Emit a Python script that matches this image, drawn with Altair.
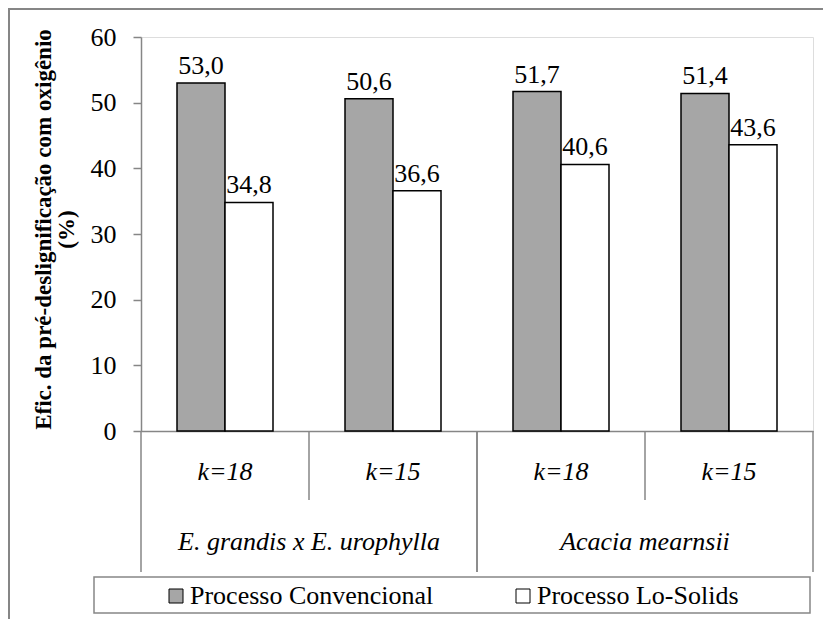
import altair as alt
import pandas as pd

# ---------------- data ----------------
groups = ["E. grandis x E. urophylla", "E. grandis x E. urophylla",
          "Acacia mearnsii", "Acacia mearnsii"]
kappas = ["k=18", "k=15", "k=18", "k=15"]
series = ["Processo Convencional", "Processo Lo-Solids"]
convencional = [53.0, 50.6, 51.7, 51.4]
lo_solids = [34.8, 36.6, 40.6, 43.6]
y_ticks = [0, 10, 20, 30, 40, 50, 60]
colors = ["#a6a6a6", "#ffffff"]
y_title = ["Efic. da pré-deslignificação com oxigênio", "(%)"]

cats = [f"{g}|{k}" for g, k in zip(groups, kappas)]
rows = []
for c, g, k, a, b in zip(cats, groups, kappas, convencional, lo_solids):
    rows.append(dict(cat=c, grupo=g, kappa=k, serie=series[0], valor=a))
    rows.append(dict(cat=c, grupo=g, kappa=k, serie=series[1], valor=b))
df = pd.DataFrame(rows)
cat_df = pd.DataFrame({"cat": cats, "grupo": groups, "kappa": kappas})

FONT = "Times New Roman, Liberation Serif, DejaVu Serif, serif"
GRAY = "#868686"
W, H = 672, 394

xscale = alt.Scale(domain=cats, paddingInner=0, paddingOuter=0)
offscale = alt.Scale(domain=series, paddingInner=0, paddingOuter=0.75)

x_main = alt.X("cat:N", scale=xscale, sort=cats,
               axis=alt.Axis(labels=False, ticks=False, title=None,
                             domainColor=GRAY, domainWidth=1.5))
y_main = alt.Y("valor:Q", scale=alt.Scale(domain=[0, 60], nice=False),
               axis=alt.Axis(values=y_ticks, grid=False, title=y_title,
                             domainColor=GRAY, domainWidth=1.5,
                             tickColor=GRAY, tickWidth=1.5, tickSize=8,
                             labelFont=FONT, labelFontSize=26, labelColor="black",
                             labelPadding=17,
                             titleFont=FONT, titleFontSize=23, titleFontWeight="bold",
                             titleColor="black", titleAngle=270, titleAlign="center",
                             titleBaseline="top", titleX=-109, titleY=192,
                             titleLineHeight=23))

# frames (decoration)
one = pd.DataFrame({"a": [0]})
outer = alt.Chart(one).mark_rect(fill="white", fillOpacity=0, stroke=GRAY, strokeWidth=2).encode(
    x=alt.value(-132), x2=alt.value(760), y=alt.value(-28), y2=alt.value(640))
legend_box = alt.Chart(one).mark_rect(fill="white", fillOpacity=0, stroke=GRAY, strokeWidth=1.5).encode(
    x=alt.value(-47), x2=alt.value(669), y=alt.value(540), y2=alt.value(576))

bars = alt.Chart(df).mark_bar(stroke="black", strokeWidth=1.5).encode(
    x=x_main,
    xOffset=alt.XOffset("serie:N", scale=offscale, sort=series),
    y=y_main,
    color=alt.Color("serie:N", sort=series,
                    scale=alt.Scale(domain=series, range=colors),
                    legend=alt.Legend(title=None, orient="none", direction="horizontal",
                                      legendX=22, legendY=546,
                                      symbolType="square", symbolSize=196,
                                      symbolStrokeColor="black", symbolStrokeWidth=1,
                                      labelFont=FONT, labelFontSize=26, labelColor="black",
                                      labelOffset=1, columnPadding=76, padding=0,
                                      labelLimit=400)),
)

labels = alt.Chart(df).transform_calculate(
    lab="replace(format(datum.valor, '.1f'), '.', ',')"
).mark_text(baseline="alphabetic", dy=-9, font=FONT, fontSize=26, color="black").encode(
    x=alt.X("cat:N", scale=xscale, sort=cats),
    xOffset=alt.XOffset("serie:N", scale=offscale, sort=series),
    y=alt.Y("valor:Q"),
    text="lab:N",
)

# category axis separators
sep_start = alt.Chart(cat_df).transform_filter(
    alt.FieldEqualPredicate(field="kappa", equal="k=18")
).mark_rule(color=GRAY, strokeWidth=1.5).encode(
    x=alt.X("cat:N", scale=xscale, sort=cats, bandPosition=0),
    y=alt.value(H), y2=alt.value(H + 141))
sep_end = alt.Chart(cat_df).transform_filter(
    alt.FieldEqualPredicate(field="kappa", equal="k=15")
).mark_rule(color=GRAY, strokeWidth=1.5).encode(
    x=alt.X("cat:N", scale=xscale, sort=cats, bandPosition=1),
    y=alt.value(H), y2=alt.value(H + 141))
sep_short = alt.Chart(cat_df).transform_filter(
    alt.FieldEqualPredicate(field="kappa", equal="k=15")
).mark_rule(color=GRAY, strokeWidth=1.5).encode(
    x=alt.X("cat:N", scale=xscale, sort=cats, bandPosition=0),
    y=alt.value(H), y2=alt.value(H + 69))

k_text = alt.Chart(cat_df).mark_text(
    font=FONT, fontSize=26, fontStyle="italic", baseline="middle", color="black"
).encode(x=alt.X("cat:N", scale=xscale, sort=cats), y=alt.value(H + 41), text="kappa:N")

g_text = alt.Chart(cat_df).transform_filter(
    alt.FieldEqualPredicate(field="kappa", equal="k=18")
).mark_text(
    font=FONT, fontSize=26, fontStyle="italic", baseline="middle", color="black"
).encode(x=alt.X("cat:N", scale=xscale, sort=cats, bandPosition=1),
         y=alt.value(H + 111), text="grupo:N")

chart = alt.layer(
    outer, legend_box, bars, labels, sep_start, sep_end, sep_short, k_text, g_text
).properties(
    width=W, height=H,
    autosize=alt.AutoSizeParams(type="none"),
    padding={"left": 133, "top": 29, "right": 10, "bottom": 188},
).configure_view(stroke=None).configure(background="white")

chart.save("out.html", embed_options={"renderer": "svg", "actions": False})
